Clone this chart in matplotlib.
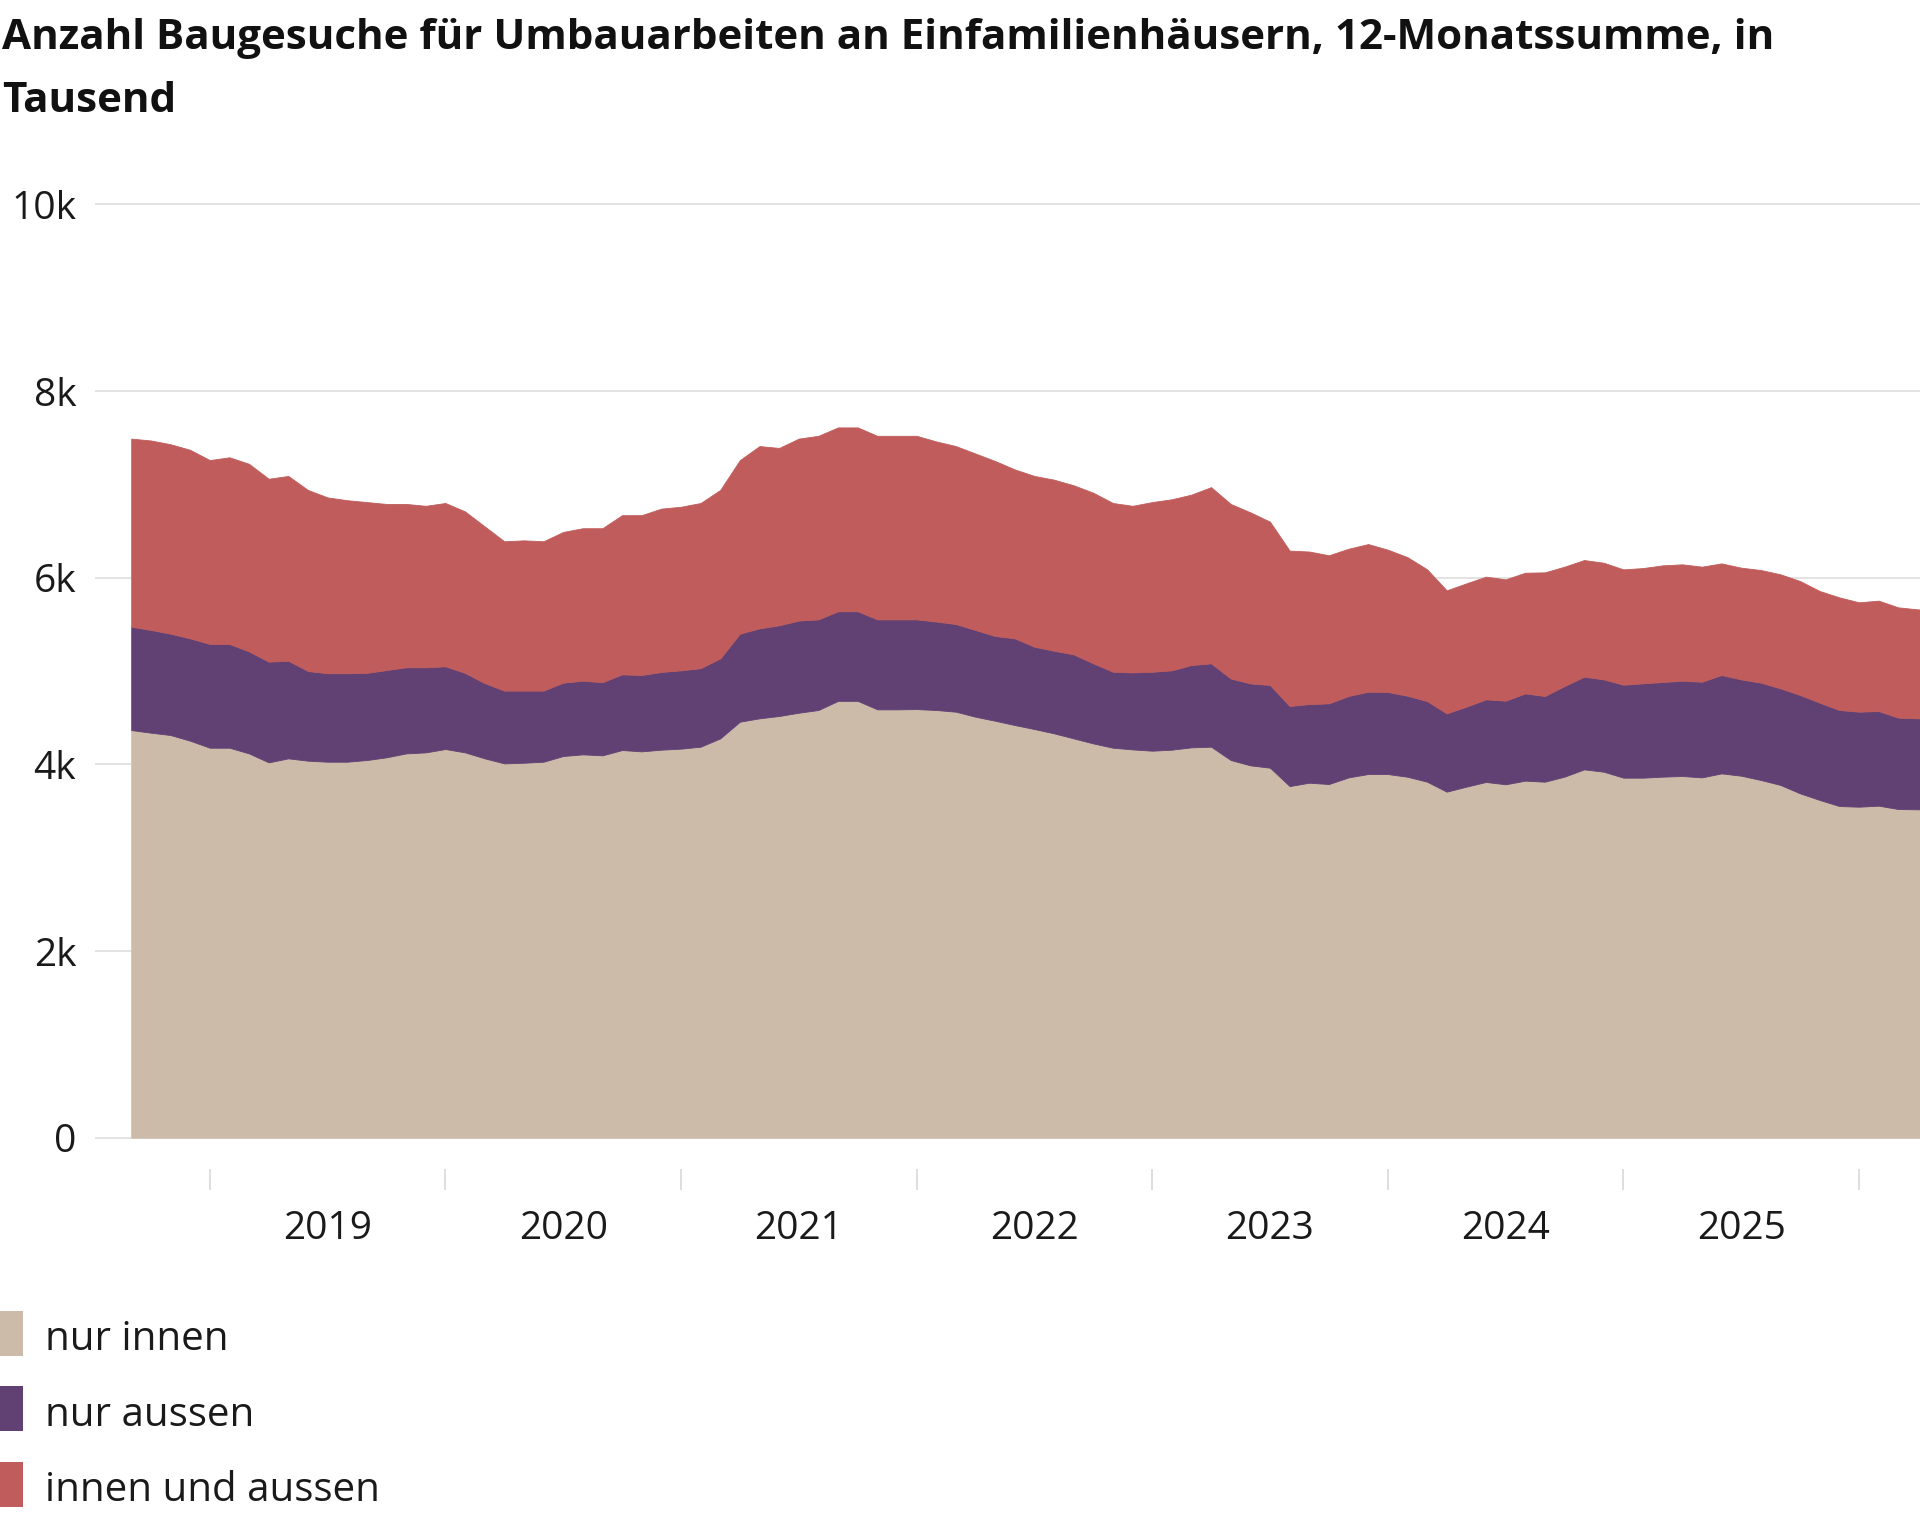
import numpy as np
import matplotlib
matplotlib.use('Agg')
import matplotlib.pyplot as plt
from matplotlib.patches import Rectangle

plt.rcParams['font.family'] = ['Open Sans', 'DejaVu Sans']

TITLE_1 = 'Anzahl Baugesuche für Umbauarbeiten an Einfamilienhäusern, 12-Monatssumme, in'
TITLE_2 = 'Tausend'

series_names = ['nur innen', 'nur aussen', 'innen und aussen']
series_colors = ['#cdbbaa', '#614073', '#c05d5c']

# 12-Monatssumme, monatlich ab September 2018
nur_innen = [
    4367, 4339, 4314, 4253, 4178, 4178, 4117, 4021, 4064, 4039,
    4028, 4028, 4046, 4075, 4117, 4128, 4164, 4128, 4064, 4010,
    4017, 4028, 4089, 4107, 4096, 4153, 4139, 4157, 4168, 4189,
    4278, 4457, 4493, 4518, 4553, 4582, 4680, 4680, 4589, 4589,
    4592, 4582, 4564, 4510, 4467, 4421, 4378, 4332, 4278, 4224,
    4178, 4160, 4146, 4157, 4182, 4189, 4046, 3989, 3964, 3767,
    3803, 3789, 3860, 3896, 3896, 3867, 3814, 3707, 3761, 3811,
    3786, 3825, 3814, 3868, 3946, 3921, 3857, 3857, 3868, 3875,
    3860, 3903, 3878, 3832, 3779, 3689, 3618, 3553, 3546, 3557,
    3521, 3518, 3518]
nur_aussen = [
    1108, 1101, 1086, 1097, 1112, 1112, 1093, 1079, 1046, 961,
    948, 948, 934, 935, 923, 912, 886, 852, 806, 780,
    773, 762, 786, 789, 784, 811, 818, 833, 839, 841,
    857, 943, 964, 972, 987, 971, 960, 960, 964, 964,
    961, 948, 939, 929, 908, 929, 882, 885, 900, 858,
    814, 825, 846, 850, 882, 893, 874, 878, 886, 858,
    843, 864, 872, 882, 879, 868, 864, 839, 857, 885,
    896, 935, 918, 971, 993, 989, 996, 1011, 1014, 1021,
    1025, 1054, 1032, 1043, 1035, 1054, 1042, 1029, 1018, 1014,
    979, 975, 975]
innen_und_aussen = [
    2015, 2030, 2030, 2020, 1970, 2000, 2010, 1960, 1980, 1940,
    1884, 1854, 1830, 1780, 1750, 1730, 1750, 1730, 1680, 1600,
    1610, 1600, 1615, 1634, 1650, 1706, 1713, 1750, 1753, 1770,
    1805, 1860, 1953, 1900, 1950, 1967, 1970, 1970, 1967, 1967,
    1967, 1930, 1907, 1891, 1875, 1810, 1830, 1833, 1812, 1828,
    1808, 1785, 1818, 1833, 1826, 1888, 1870, 1833, 1750, 1665,
    1634, 1587, 1578, 1582, 1525, 1485, 1412, 1318, 1321, 1315,
    1300, 1293, 1325, 1279, 1250, 1250, 1236, 1235, 1250, 1247,
    1233, 1196, 1197, 1207, 1222, 1221, 1197, 1207, 1172, 1183,
    1182, 1167, 1167]

year_ticks = list(range(2019, 2027))
year_labels = [str(y) for y in range(2019, 2026)]
y_ticks = [0, 2000, 4000, 6000, 8000, 10000]
y_labels = ['0', '2k', '4k', '6k', '8k', '10k']

# Monate als Dezimaljahre (Sep 2018 = 2018 + 8/12)
x = 2018 + (8 + np.arange(len(nur_innen))) / 12

W, H = 1920, 1517
fig = plt.figure(figsize=(W / 100, H / 100), dpi=100)
ax = fig.add_axes([95 / W, 1 - 1147 / H, 1825 / W, 952 / H])

ax.stackplot(x, nur_innen, nur_aussen, innen_und_aussen,
             colors=series_colors, edgecolor='face', linewidth=0.6, zorder=2)

ax.set_xlim(2018.513, 2026.259)
ax.set_ylim(-100, 10100)

ax.set_yticks(y_ticks)
ax.set_yticklabels(y_labels)
ax.yaxis.grid(True, color='#e3e3e3', linewidth=1.4, zorder=0)
ax.set_axisbelow(True)
ax.tick_params(axis='y', length=0, pad=13.5, labelsize=28, labelcolor='#1a1a1a')

for s in ax.spines.values():
    s.set_visible(False)
ax.spines['bottom'].set_position(('outward', 15.8))

ax.set_xticks(year_ticks)
ax.set_xticklabels([])
ax.set_xticks([y + 0.5 for y in range(2019, 2026)], minor=True)
ax.set_xticklabels(year_labels, minor=True)
ax.tick_params(axis='x', which='major', length=15, width=1.4, color='#dedede', direction='out')
ax.tick_params(axis='x', which='minor', length=0, pad=29.5, labelsize=28, labelcolor='#1a1a1a')

fig.text(0.001, 1 - 49 / H, TITLE_1, fontsize=30.3, fontweight='bold',
         color='#111111', va='baseline', ha='left')
fig.text(0.001, 1 - 112 / H, TITLE_2, fontsize=30.3, fontweight='bold',
         color='#111111', va='baseline', ha='left')

# Legende
for i, (name, col) in enumerate(zip(series_names, series_colors)):
    yc = 1333 + i * 75.7
    fig.patches.append(Rectangle((0, 1 - (yc + 22.5) / H), 22.7 / W, 45 / H,
                                 transform=fig.transFigure, facecolor=col,
                                 edgecolor='none'))
    fig.text(45 / W, 1 - (yc + 17) / H, name, fontsize=29, color='#1a1a1a',
             va='baseline', ha='left')

fig.savefig('out.png', dpi=100, facecolor='white')
